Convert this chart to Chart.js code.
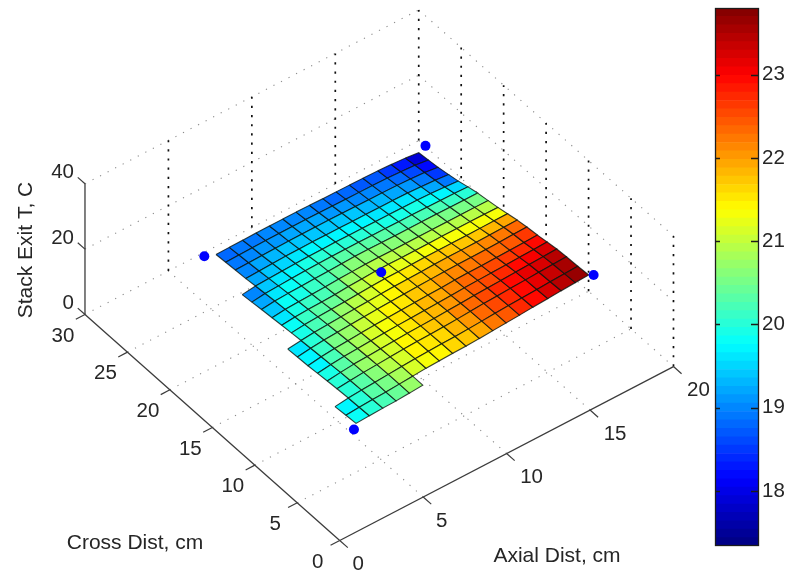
<!DOCTYPE html>
<html>
<head>
<meta charset="utf-8">
<title>Stack Exit T</title>
<script src="https://cdn.jsdelivr.net/npm/chart.js@4"></script>
<style>
  html, body { margin: 0; padding: 0; background: #fff; }
  #wrap { position: relative; width: 795px; height: 572px; overflow: hidden; }
  canvas { position: absolute; top: 0; filter: blur(0.55px); }
  #surface { left: 0; }
  #colorbar { left: 714px; }
</style>
</head>
<body>
<div id="wrap">
  <canvas id="surface" width="795" height="572"></canvas>
  <canvas id="colorbar" width="81" height="572"></canvas>
</div>
<script>
// axis ticks
var axialTicks = [0, 5, 10, 15, 20];
var crossTicks = [0, 5, 10, 15, 20, 25, 30];
var tempTicks = [0, 20, 40];
var colorTicks = [18, 19, 20, 21, 22, 23];
var colorMin = 17.34;
var colorMax = 23.8;

// mesh columns (cm) and rows (cm), back row first
var axialDist = [2.5, 3.3, 4.1, 4.9, 5.7, 6.5, 7.3, 8.1, 8.9, 9.7, 10.5, 11.3, 12.1, 12.9, 13.7, 14.6, 15.4, 16.25, 17.05];
var crossDist = [24.2, 23.1, 22, 20.8, 19.7, 18.6, 17.5, 16.3, 15.2, 14.1, 13, 11.9, 10.7, 9.6, 8.5, 7.4, 6.1, 4.85, 3.7];
// the rows sit slightly skewed along the axial direction
var rowSkew = [0, 0.02, 0.04, 0.06, 0.08, 0.1, 0.12, 0.14, 0.16, 0.18, 0.2, 0.22, 0.24, 0.26, 0.28, 0.3, 0.32, 0.34, 0.36];

// stack exit temperature, one row per crossDist entry
var n = null;
var row00 = [n, n, n, 18.7, 18.75, 18.8, 18.9, 18.9, 18.9, 18.9, 18.85, 18.75, 18.7, 18.65, 18.6, 18.5, 18.3, 18.0, 17.5];
var row01 = [n, n, n, 18.8, 18.9, 19.0, 19.05, 19.1, 19.1, 19.1, 19.05, 19.0, 18.95, 18.9, 18.85, 18.75, 18.55, 18.3, 17.75];
var row02 = [n, n, n, 18.9, 19.0, 19.1, 19.2, 19.25, 19.3, 19.3, 19.3, 19.25, 19.2, 19.15, 19.1, 19.0, 18.85, 18.55, 18.0];
var row03 = [n, n, n, 19.0, 19.2, 19.35, 19.5, 19.55, 19.6, 19.6, 19.55, 19.5, 19.5, 19.5, 19.45, 19.4, 19.2, 18.9, 18.5];
var row04 = [n, n, 18.7, 19.2, 19.4, 19.55, 19.7, 19.8, 19.85, 19.9, 19.85, 19.85, 19.8, 19.8, 19.75, 19.7, 19.55, 19.3, 19.0];
var row05 = [n, n, 18.9, 19.4, 19.6, 19.8, 20.0, 20.1, 20.15, 20.2, 20.2, 20.15, 20.1, 20.1, 20.05, 20.0, 19.95, 19.85, 19.7];
var row06 = [n, n, 19.1, 19.6, 19.8, 19.95, 20.1, 20.2, 20.35, 20.5, 20.5, 20.45, 20.4, 20.4, 20.4, 20.4, 20.35, 20.3, 20.3];
var row07 = [n, n, 19.3, 19.75, 19.95, 20.1, 20.25, 20.5, 20.65, 20.8, 20.8, 20.75, 20.75, 20.75, 20.75, 20.75, 20.75, 20.75, 20.7];
var row08 = [n, n, 19.5, 19.9, 20.1, 20.25, 20.4, 20.7, 20.9, 21.1, 21.1, 21.05, 21.1, 21.1, 21.15, 21.15, 21.15, 21.15, 21.1];
var row09 = [n, n, 19.65, 20.05, 20.3, 20.5, 20.65, 20.9, 21.15, 21.3, 21.35, 21.4, 21.5, 21.5, 21.5, 21.5, 21.55, 21.6, 21.65];
var row10 = [n, 19.3, 19.8, 20.2, 20.4, 20.65, 20.9, 21.1, 21.3, 21.5, 21.6, 21.7, 21.85, 21.9, 21.9, 21.95, 22.0, 22.1, 22.2];
var row11 = [n, 19.35, 19.9, 20.3, 20.55, 20.8, 21.05, 21.25, 21.45, 21.6, 21.75, 21.9, 22.05, 22.1, 22.15, 22.2, 22.3, 22.45, 22.55];
var row12 = [n, 19.4, 20.0, 20.4, 20.65, 20.95, 21.2, 21.4, 21.55, 21.7, 21.85, 22.0, 22.2, 22.3, 22.35, 22.45, 22.55, 22.65, 22.8];
var row13 = [n, 19.55, 20.1, 20.5, 20.75, 21.0, 21.25, 21.45, 21.6, 21.75, 21.9, 22.1, 22.3, 22.45, 22.55, 22.7, 22.85, 23.0, 23.15];
var row14 = [n, 19.7, 20.2, 20.6, 20.8, 21.05, 21.3, 21.5, 21.65, 21.8, 22.0, 22.2, 22.45, 22.6, 22.75, 22.95, 23.15, 23.3, 23.5];
var row15 = [n, 19.8, 20.2, 20.55, 20.8, 21.05, 21.3, 21.5, 21.6, 21.75, 21.95, 22.2, 22.5, 22.65, 22.85, 23.05, 23.25, 23.45, 23.6];
var row16 = [19.4, 19.9, 20.2, 20.5, 20.75, 21.05, 21.3, 21.45, 21.6, 21.7, 21.9, 22.15, 22.45, 22.65, 22.85, 23.05, 23.3, 23.5, 23.65];
var row17 = [19.6, 19.9, 20.15, 20.3, 20.6, 20.9, 21.2, 21.35, 21.5, 21.6, 21.8, 22.05, 22.3, 22.55, 22.85, 23.1, 23.35, 23.6, 23.8];
var row18 = [19.7, 19.9, 20.1, 20.2, 20.45, 20.75, n, n, n, n, n, n, n, n, n, n, n, n, n];
var tempRows = [row00, row01, row02, row03, row04, row05, row06, row07, row08, row09, row10, row11, row12, row13, row14, row15, row16, row17, row18];

// blue measurement points
var markerAxial = [4.2, 17.25, 18.1, 2.48, 10.2];
var markerCross = [24.2, 23.8, 5.67, 3.2, 15.16];
var markerTemp = [20, 20, 20, 20, 20];

var FONT = '"Liberation Sans", Arial, sans-serif';
var TEXT = '#262626';

// fixed 3d view, the same for all marks
function project(axial, cross, temp) {
  return {
    x: 339 + axial * 16.9 - cross * 8.6,
    y: 545 - axial * 8.85 - cross * 7.667 - temp * 3.325
  };
}

// matlab jet, 64 steps
function jet(v) {
  var t = Math.floor((v - colorMin) / (colorMax - colorMin) * 64);
  t = (Math.min(63, Math.max(0, t)) + 0.5) / 64;
  function ch(c) { return Math.round(255 * Math.max(0, Math.min(1, 1.5 - Math.abs(4 * t - c)))); }
  return 'rgb(' + ch(3) + ',' + ch(2) + ',' + ch(1) + ')';
}

function seg(points, color, width, dash) {
  return {
    data: points.map(function (p) { return project(p[0], p[1], p[2]); }),
    showLine: true, tension: 0, pointRadius: 0, fill: false,
    borderColor: color, borderWidth: width, borderDash: dash || [], borderCapStyle: 'butt'
  };
}

var datasets = [];

// markers go first so they stay on top
datasets.push({
  data: markerAxial.map(function (a, i) { return project(a, markerCross[i], markerTemp[i]); }),
  showLine: false, pointRadius: 5, pointBackgroundColor: '#0000ff', pointBorderWidth: 0
});

// surface, front rows on top of back rows
for (var k = tempRows.length - 2; k >= 0; k--) {
  for (var c = axialDist.length - 2; c >= 0; c--) {
    var a = tempRows[k][c], b = tempRows[k][c + 1], d = tempRows[k + 1][c + 1], e = tempRows[k + 1][c];
    if (a === null || b === null || d === null || e === null) continue;
    datasets.push({
      data: [
        project(axialDist[c] + rowSkew[k], crossDist[k], a),
        project(axialDist[c + 1] + rowSkew[k], crossDist[k], b),
        project(axialDist[c + 1] + rowSkew[k + 1], crossDist[k + 1], d),
        project(axialDist[c] + rowSkew[k + 1], crossDist[k + 1], e),
        project(axialDist[c] + rowSkew[k], crossDist[k], a)
      ],
      showLine: true, tension: 0, pointRadius: 0, fill: 'shape',
      backgroundColor: jet((a + b + d + e) / 4),
      borderColor: 'rgba(10,20,15,0.8)', borderWidth: 1.1
    });
  }
}

// solid axes and their ticks
var AXIS = '#3c3c3c';
datasets.push(seg([[0, 0, 0], [20, 0, 0]], AXIS, 1.3));
datasets.push(seg([[0, 0, 0], [0, 30, 0]], AXIS, 1.3));
datasets.push(seg([[0, 30, 0], [0, 30, 40]], AXIS, 1.3));
axialTicks.forEach(function (v) { datasets.push(seg([[v, 0, 0], [v, -0.95, 0]], AXIS, 1.2)); });
crossTicks.forEach(function (v) { datasets.push(seg([[0, v, 0], [-0.55, v, 0]], AXIS, 1.2)); });
tempTicks.forEach(function (v) { datasets.push(seg([[0, 30, v], [0, 30.85, v]], AXIS, 1.2)); });

// dark dotted verticals on the two back walls
var DARK = '#101010';
axialTicks.slice(1).forEach(function (v) { datasets.push(seg([[v, 30, 0], [v, 30, 40]], DARK, 1.7, [2.2, 7])); });
crossTicks.slice(0, -1).forEach(function (v) { datasets.push(seg([[20, v, 0], [20, v, 40]], DARK, 1.7, [2.2, 7])); });

// pale dotted floor and wall grid
var PALE = 'rgba(110,110,110,0.8)';
axialTicks.slice(1, -1).forEach(function (v) { datasets.push(seg([[v, 0, 0], [v, 30, 0]], PALE, 1.1, [1.2, 7.3])); });
crossTicks.slice(1, -1).forEach(function (v) { datasets.push(seg([[0, v, 0], [20, v, 0]], PALE, 1.1, [1.2, 7.3])); });
tempTicks.forEach(function (v) {
  datasets.push(seg([[0, 30, v], [20, 30, v]], PALE, 1.1, [1.2, 7.3]));
  datasets.push(seg([[20, 30, v], [20, 0, v]], PALE, 1.1, [1.2, 7.3]));
});

function put(ctx, text, px, py, align, size) {
  ctx.font = size + 'px ' + FONT;
  ctx.textAlign = align;
  ctx.textBaseline = 'middle';
  ctx.fillText(text, px, py);
}

// tick labels and axis titles
var axisText = {
  id: 'axisText',
  afterDraw: function (chart) {
    var ctx = chart.ctx, sx = chart.scales.x, sy = chart.scales.y;
    function at(a, b, t) {
      var p = project(a, b, t);
      return { x: sx.getPixelForValue(p.x), y: sy.getPixelForValue(p.y) };
    }
    ctx.save();
    ctx.fillStyle = TEXT;
    axialTicks.forEach(function (v) {
      var p = at(v, 0, 0), off = v < 10 ? 18.5 : 25;
      put(ctx, String(v), p.x + off, p.y + 24, 'center', 20.5);
    });
    crossTicks.forEach(function (v) {
      var p = at(0, v, 0);
      put(ctx, String(v), p.x - 22, p.y + 21.5, 'center', 20.5);
    });
    tempTicks.forEach(function (v) {
      var p = at(0, 30, v);
      put(ctx, String(v), p.x - 11, p.y - 11, 'right', 20.5);
    });
    put(ctx, 'Axial Dist, cm', 557, 556, 'center', 21);
    put(ctx, 'Cross Dist, cm', 135, 543, 'center', 21);
    ctx.translate(26, 250);
    ctx.rotate(-Math.PI / 2);
    put(ctx, 'Stack Exit T, C', 0, 0, 'center', 21);
    ctx.restore();
  }
};

new Chart(document.getElementById('surface').getContext('2d'), {
  type: 'scatter',
  data: { datasets: datasets },
  options: {
    responsive: false,
    animation: false,
    layout: { padding: 0 },
    plugins: { legend: { display: false }, tooltip: { enabled: false } },
    scales: {
      x: { type: 'linear', display: false, min: 0, max: 795 },
      y: { type: 'linear', display: false, min: 0, max: 572, reverse: true }
    }
  },
  plugins: [axisText]
});

// colorbar, 64 floating strips
var strips = [];
for (var i = 0; i < 64; i++) {
  var lo = colorMin + (colorMax - colorMin) * i / 64;
  var hi = colorMin + (colorMax - colorMin) * (i + 1) / 64;
  strips.push({
    data: [[lo, hi]],
    backgroundColor: jet((lo + hi) / 2),
    barPercentage: 1, categoryPercentage: 1, grouped: false
  });
}

var barFrame = {
  id: 'barFrame',
  afterDraw: function (chart) {
    var ctx = chart.ctx, area = chart.chartArea, sy = chart.scales.y;
    ctx.save();
    ctx.strokeStyle = '#1c1c1c';
    ctx.lineWidth = 1.3;
    ctx.strokeRect(area.left + 0.5, area.top + 0.5, area.width - 1, area.height - 1);
    colorTicks.forEach(function (v) {
      var py = Math.round(sy.getPixelForValue(v)) + 0.5;
      ctx.beginPath();
      ctx.moveTo(area.left, py); ctx.lineTo(area.left + 5, py);
      ctx.moveTo(area.right - 8, py); ctx.lineTo(area.right, py);
      ctx.stroke();
    });
    ctx.restore();
  }
};

new Chart(document.getElementById('colorbar').getContext('2d'), {
  type: 'bar',
  data: { labels: ['T'], datasets: strips },
  options: {
    responsive: false,
    animation: false,
    layout: { padding: { left: 1, top: 8, bottom: 26 } },
    plugins: { legend: { display: false }, tooltip: { enabled: false } },
    scales: {
      x: { display: false },
      y: {
        position: 'right',
        min: colorMin,
        max: colorMax,
        grid: { display: false },
        border: { display: false },
        afterFit: function (scale) { scale.width = 36; scale.paddingTop = 0; scale.paddingBottom = 0; },
        afterBuildTicks: function (scale) { scale.ticks = colorTicks.map(function (v) { return { value: v }; }); },
        ticks: { padding: -5, color: TEXT, font: { family: FONT, size: 20.5 } }
      }
    }
  },
  plugins: [barFrame]
});
</script>
</body>
</html>
